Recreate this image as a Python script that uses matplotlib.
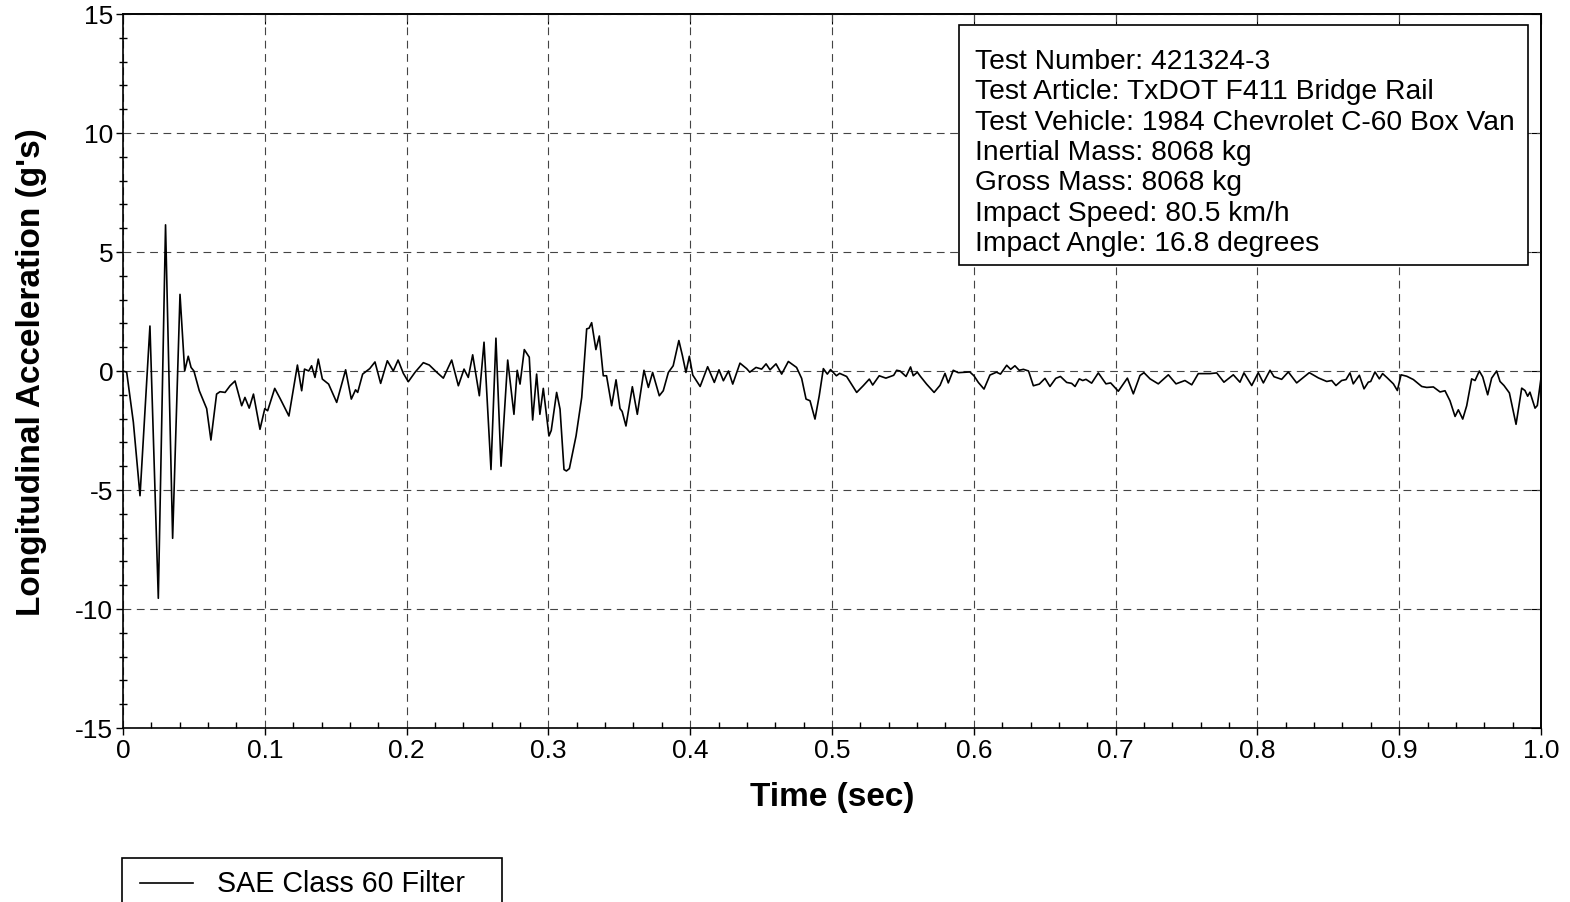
import matplotlib
matplotlib.use('Agg')
import matplotlib.pyplot as plt
import numpy as np
from matplotlib.patches import Rectangle
from matplotlib.lines import Line2D

plt.rcParams['font.family'] = ['Liberation Sans', 'DejaVu Sans']
plt.rcParams['axes.unicode_minus'] = False

# time (sec) and acceleration (g's)
time = [0.000, 0.0026, 0.0073, 0.012, 0.019, 0.0249, 0.030, 0.035, 0.0402, 0.0435,
        0.046, 0.048, 0.050, 0.0538, 0.059, 0.062, 0.066, 0.0684, 0.072, 0.0755,
        0.079, 0.0837, 0.086, 0.089, 0.092, 0.0966, 0.100, 0.102, 0.107, 0.111,
        0.117, 0.123, 0.126, 0.128, 0.131, 0.133, 0.1354, 0.1377, 0.1406, 0.145,
        0.1507, 0.157, 0.161, 0.164, 0.1655, 0.169, 0.174, 0.1777, 0.1817, 0.1864,
        0.1906, 0.194, 0.1977, 0.2012, 0.206, 0.2118, 0.216, 0.2212, 0.2259, 0.2318,
        0.2365, 0.2405, 0.2435, 0.2466, 0.2513, 0.2546, 0.2595, 0.263, 0.2666, 0.2713,
        0.2757, 0.278, 0.280, 0.283, 0.2865, 0.2889, 0.2917, 0.294, 0.2964, 0.3004,
        0.302, 0.3058, 0.3082, 0.311, 0.3127, 0.3148, 0.3195, 0.3235, 0.327, 0.3287,
        0.3305, 0.3335, 0.3359, 0.3387, 0.341, 0.3446, 0.3477, 0.3505, 0.352, 0.3547,
        0.3592, 0.3627, 0.3674, 0.3705, 0.3735, 0.3782, 0.381, 0.3846, 0.388, 0.392,
        0.3945, 0.397, 0.3994, 0.4018, 0.407, 0.4123, 0.417, 0.4203, 0.4234, 0.427,
        0.430, 0.4351, 0.4398, 0.442, 0.4464, 0.4504, 0.4535, 0.4563, 0.4605, 0.4645,
        0.4692, 0.475, 0.4786, 0.4817, 0.4845, 0.488, 0.491, 0.4939, 0.4967, 0.499,
        0.5031, 0.5054, 0.5103, 0.5174, 0.522, 0.5263, 0.5287, 0.5333, 0.538, 0.5435,
        0.5456, 0.548, 0.5522, 0.5554, 0.5573, 0.5602, 0.562, 0.5667, 0.572, 0.5762,
        0.5797, 0.582, 0.5855, 0.589, 0.5972, 0.6001, 0.6032, 0.6072, 0.6114, 0.616,
        0.6188, 0.6232, 0.626, 0.629, 0.632, 0.635, 0.6386, 0.642, 0.6462, 0.6502,
        0.6537, 0.6578, 0.6611, 0.6655, 0.669, 0.6714, 0.6744, 0.6768, 0.6791, 0.6831,
        0.6878, 0.6932, 0.6965, 0.7019, 0.7083, 0.7125, 0.7172, 0.720, 0.7243, 0.7301,
        0.7372, 0.7426, 0.7489, 0.7537, 0.7583, 0.7666, 0.7713, 0.7764, 0.783, 0.7877,
        0.7905, 0.796, 0.8006, 0.8042, 0.8089, 0.8117, 0.8171, 0.8218, 0.8277, 0.8366,
        0.843, 0.8489, 0.8524, 0.8554, 0.8594, 0.8625, 0.8653, 0.8676, 0.8719, 0.8752,
        0.8782, 0.8799, 0.8829, 0.886, 0.8883, 0.8916, 0.8959, 0.8987, 0.9013, 0.9053,
        0.910, 0.9159, 0.9194, 0.9241, 0.9288, 0.9323, 0.9358, 0.9394, 0.9417, 0.9448,
        0.9476, 0.9511, 0.9535, 0.9565, 0.9589, 0.9624, 0.9652, 0.9687, 0.9711, 0.9739,
        0.9777, 0.9824, 0.9864, 0.9887, 0.9906, 0.9922, 0.9958, 0.9974, 1.000]

accel = [0.00, -0.05, -2.15, -5.24, 1.89, -9.55, 6.14, -7.03, 3.22, 0.00,
         0.62, 0.15, 0.00, -0.83, -1.58, -2.90, -0.97, -0.87, -0.90, -0.62,
         -0.42, -1.46, -1.11, -1.56, -0.97, -2.45, -1.58, -1.67, -0.73, -1.18,
         -1.89, 0.25, -0.83, 0.08, 0.00, 0.22, -0.27, 0.50, -0.34, -0.55,
         -1.32, 0.05, -1.18, -0.79, -0.90, -0.13, 0.10, 0.38, -0.52, 0.43,
         0.00, 0.46, -0.10, -0.45, -0.05, 0.35, 0.25, -0.05, -0.30, 0.46,
         -0.62, 0.08, -0.27, 0.68, -1.04, 1.21, -4.14, 1.38, -4.00, 0.46,
         -1.82, 0.03, -0.55, 0.90, 0.58, -2.06, -0.13, -1.82, -0.73, -2.73,
         -2.50, -0.90, -1.60, -4.14, -4.20, -4.10, -2.73, -1.11, 1.77, 1.80,
         2.03, 0.90, 1.47, -0.20, -0.20, -1.46, -0.37, -1.58, -1.70, -2.31,
         -0.66, -1.82, 0.03, -0.69, -0.06, -1.04, -0.83, -0.06, 0.22, 1.28,
         0.65, -0.06, 0.62, -0.17, -0.65, 0.18, -0.48, 0.05, -0.41, 0.00,
         -0.55, 0.33, 0.10, -0.05, 0.15, 0.08, 0.30, 0.05, 0.30, -0.13,
         0.40, 0.15, -0.31, -1.18, -1.25, -2.02, -1.04, 0.10, -0.13, 0.06,
         -0.20, -0.10, -0.23, -0.90, -0.62, -0.34, -0.59, -0.20, -0.30, -0.18,
         0.03, 0.00, -0.23, 0.17, -0.20, -0.05, -0.20, -0.55, -0.90, -0.60,
         -0.10, -0.50, 0.03, -0.07, -0.04, -0.20, -0.48, -0.76, -0.17, -0.05,
         -0.13, 0.24, 0.07, 0.22, 0.03, 0.07, 0.00, -0.62, -0.55, -0.31,
         -0.65, -0.31, -0.23, -0.48, -0.52, -0.65, -0.33, -0.40, -0.35, -0.51,
         -0.08, -0.54, -0.50, -0.85, -0.30, -0.96, -0.19, -0.07, -0.33, -0.54,
         -0.16, -0.54, -0.40, -0.58, -0.11, -0.11, -0.08, -0.47, -0.16, -0.47,
         -0.08, -0.61, -0.07, -0.50, 0.03, -0.24, -0.35, -0.04, -0.50, -0.07,
         -0.29, -0.44, -0.40, -0.61, -0.40, -0.36, -0.08, -0.54, -0.18, -0.75,
         -0.47, -0.44, -0.04, -0.33, -0.11, -0.29, -0.54, -0.82, -0.16, -0.22,
         -0.36, -0.65, -0.69, -0.67, -0.88, -0.83, -1.25, -1.91, -1.63, -2.02,
         -1.46, -0.33, -0.40, 0.00, -0.25, -1.00, -0.30, 0.00, -0.44, -0.61,
         -0.92, -2.24, -0.72, -0.82, -1.06, -0.89, -1.56, -1.45, -0.30]

x_ticks = [0, 0.1, 0.2, 0.3, 0.4, 0.5, 0.6, 0.7, 0.8, 0.9, 1.0]
x_labels = ['0', '0.1', '0.2', '0.3', '0.4', '0.5', '0.6', '0.7', '0.8', '0.9', '1.0']
y_ticks = [-15, -10, -5, 0, 5, 10, 15]

info_lines = ['Test Number: 421324-3',
              'Test Article: TxDOT F411 Bridge Rail',
              'Test Vehicle: 1984 Chevrolet C-60 Box Van',
              'Inertial Mass: 8068 kg',
              'Gross Mass: 8068 kg',
              'Impact Speed: 80.5 km/h',
              'Impact Angle: 16.8 degrees']
legend_label = 'SAE Class 60 Filter'

W, H = 1570, 903
fig = plt.figure(figsize=(W/100, H/100), dpi=100)
ax = fig.add_axes([123/W, 1 - 729/H, 1418/W, 714/H])

ax.plot(time, accel, color='black', linewidth=1.2)

ax.set_xlim(0, 1.0)
ax.set_ylim(-15, 15)
ax.set_xticks(x_ticks)
ax.set_xticklabels(x_labels)
ax.set_yticks(y_ticks)
ax.set_xticks(np.arange(0, 1.001, 0.02), minor=True)
ax.set_yticks(np.arange(-15, 16, 1), minor=True)
ax.tick_params(axis='both', which='major', direction='out', length=5, width=1,
               labelsize=19, pad=2)
ax.tick_params(axis='x', which='minor', direction='in', length=4, width=1)
ax.tick_params(axis='y', which='minor', direction='inout', length=6, width=1)

# top/right frame: short inward ticks only
top = ax.secondary_xaxis('top')
top.set_xticks(x_ticks)
top.tick_params(direction='in', length=7, labeltop=False)
right = ax.secondary_yaxis('right')
right.set_yticks(y_ticks)
right.tick_params(direction='in', length=7, labelright=False)

ax.grid(True, which='major', color='#444444', linestyle=(0, (7, 5)), linewidth=0.8)
for s in ax.spines.values():
    s.set_linewidth(1.2)
for sp in (top.spines.values(), right.spines.values()):
    for s in sp:
        s.set_linewidth(1.2)

ax.set_xlabel('Time (sec)', fontsize=24, fontweight='bold', labelpad=14)
ax.set_ylabel("Longitudinal Acceleration (g's)", fontsize=24, fontweight='bold', labelpad=20)

# information box
ax.add_patch(Rectangle((836/1418, 463/714), 569/1418, 240/714, transform=ax.transAxes,
                       facecolor='white', edgecolor='black', linewidth=1.2, zorder=5))
ax.text(852/1418, 576/714, '\n'.join(info_lines), transform=ax.transAxes,
        fontsize=20.3, ha='left', va='center', linespacing=1.22, zorder=6)

# legend box, running off the bottom of the figure
fig.add_artist(Rectangle((122/W, -0.05), 380/W, 0.05 + 1 - 859/H, transform=fig.transFigure,
                         facecolor='white', edgecolor='black', linewidth=1.2))
fig.add_artist(Line2D([140/W, 193/W], [1 - 884/H, 1 - 884/H], transform=fig.transFigure,
                      color='black', linewidth=1.2))
fig.text(217/W, 1 - 884/H, legend_label, fontsize=20.6, ha='left', va='center')

plt.savefig('out.png', dpi=100)
